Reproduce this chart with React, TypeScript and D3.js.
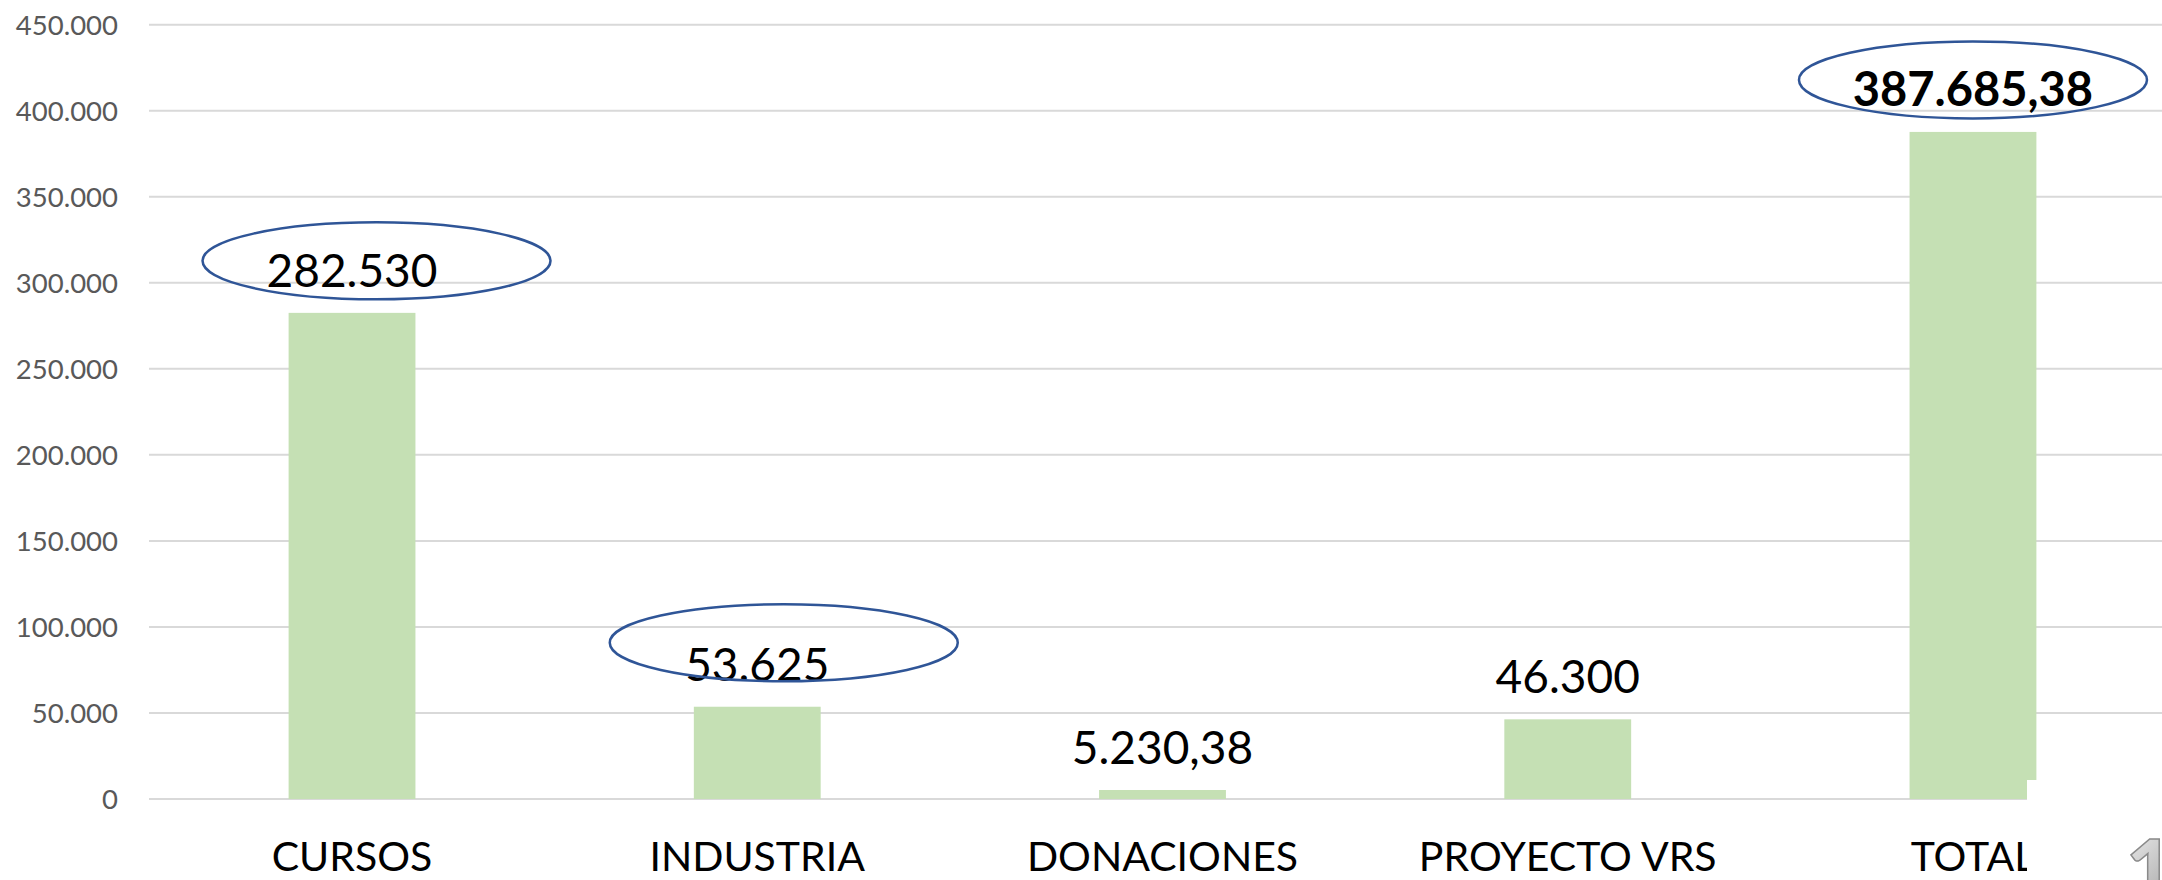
import { useRef, useEffect } from "react";
import * as d3 from "d3";

const categories = ["CURSOS", "INDUSTRIA", "DONACIONES", "PROYECTO VRS", "TOTAL"];
const values = [282530, 53625, 5230.38, 46300, 387685.38];
const valueLabels = ["282.530", "53.625", "5.230,38", "46.300", "387.685,38"];
const yTicks = [0, 50000, 100000, 150000, 200000, 250000, 300000, 350000, 400000, 450000];

// hand-drawn ellipses: category, and their offset from the bar top centre
const circled = ["CURSOS", "INDUSTRIA", "TOTAL"];
const circleShift: [number, number][] = [
  [24.5, -52],
  [26.5, -64],
  [0, -52],
];

const W = 2162;
const H = 880;
const FONT = "Lato, 'Open Sans', sans-serif";

function fmtTick(v: number) {
  return v === 0 ? "0" : d3.format(",")(v).replace(/,/g, ".");
}

function ValueChart() {
  const svgRef = useRef<SVGSVGElement>(null);

  useEffect(() => {
    if (!svgRef.current) return;
    const svg = d3.select(svgRef.current);
    svg.selectAll("*").remove();

    // plot area runs a bit past the right edge, as in the cropped original
    const x = d3
      .scaleBand<string>()
      .domain(categories)
      .range([149.4, 2175.6])
      .paddingInner(0.687)
      .paddingOuter(0.3435);

    const y = d3.scaleLinear().domain([0, 450000]).range([799, 24.7]);

    svg
      .append("g")
      .selectAll("line")
      .data(yTicks)
      .join("line")
      .attr("x1", 149)
      .attr("x2", 2176)
      .attr("y1", (d) => y(d))
      .attr("y2", (d) => y(d))
      .attr("stroke", "#d9d9d9")
      .attr("stroke-width", 2);

    svg
      .append("g")
      .selectAll("text")
      .data(yTicks)
      .join("text")
      .attr("x", 118)
      .attr("y", (d) => y(d))
      .attr("dy", "0.36em")
      .attr("text-anchor", "end")
      .attr("font-family", FONT)
      .attr("font-size", 27.5)
      .attr("fill", "#595959")
      .text((d) => fmtTick(d));

    const bw = x.bandwidth();
    svg
      .append("g")
      .selectAll("rect")
      .data(values)
      .join("rect")
      .attr("x", (_, i) => x(categories[i])!)
      .attr("y", (d) => y(d))
      .attr("width", bw)
      .attr("height", (d) => y(0) - y(d))
      .attr("fill", "#c5e0b4");

    svg
      .append("g")
      .selectAll("text")
      .data(values)
      .join("text")
      .attr("x", (_, i) => x(categories[i])! + bw / 2)
      .attr("y", (d) => y(d) - 26)
      .attr("text-anchor", "middle")
      .attr("font-family", FONT)
      .attr("font-size", (_, i) => (i === 4 ? 47 : 46))
      .attr("font-weight", (_, i) => (i === 4 ? 700 : 400))
      .attr("fill", "#000")
      .text((_, i) => valueLabels[i]);

    const ell = svg.append("g");
    circled.forEach((c, k) => {
      const i = categories.indexOf(c);
      ell
        .append("ellipse")
        .attr("cx", x(c)! + bw / 2 + circleShift[k][0])
        .attr("cy", y(values[i]) + circleShift[k][1])
        .attr("rx", 174)
        .attr("ry", 38.5)
        .attr("fill", "none")
        .attr("stroke", "#2f5597")
        .attr("stroke-width", 2.5);
    });

    svg
      .append("g")
      .selectAll("text")
      .data(categories)
      .join("text")
      .attr("x", (d) => x(d)! + bw / 2)
      .attr("y", 871)
      .attr("text-anchor", "middle")
      .attr("font-family", FONT)
      .attr("font-size", 41)
      .attr("fill", "#000")
      .text((d) => d);

    // white patch over the bottom-right corner, with the stray "19" sticker
    svg
      .append("rect")
      .attr("x", 2027)
      .attr("y", 780)
      .attr("width", W - 2027)
      .attr("height", H - 780)
      .attr("fill", "#fff");

    const defs = svg.append("defs");
    const g = defs
      .append("linearGradient")
      .attr("id", "silver")
      .attr("x1", "0")
      .attr("x2", "1")
      .attr("y1", "0")
      .attr("y2", "1");
    g.append("stop").attr("offset", "0").attr("stop-color", "#f4f4f4");
    g.append("stop").attr("offset", "0.5").attr("stop-color", "#b8b8b8");
    g.append("stop").attr("offset", "1").attr("stop-color", "#e8e8e8");

    svg
      .append("text")
      .attr("x", 2126)
      .attr("y", 900)
      .attr("font-family", FONT)
      .attr("font-weight", 900)
      .attr("font-size", 84)
      .attr("fill", "url(#silver)")
      .attr("stroke", "#8a8a8a")
      .attr("stroke-width", 1.5)
      .text("19");
  }, []);

  return (
    <svg
      ref={svgRef}
      width={W}
      height={H}
      style={{ position: "absolute", left: 0, top: 0, background: "#fff" }}
    />
  );
}

export default function App() {
  return <ValueChart />;
}
